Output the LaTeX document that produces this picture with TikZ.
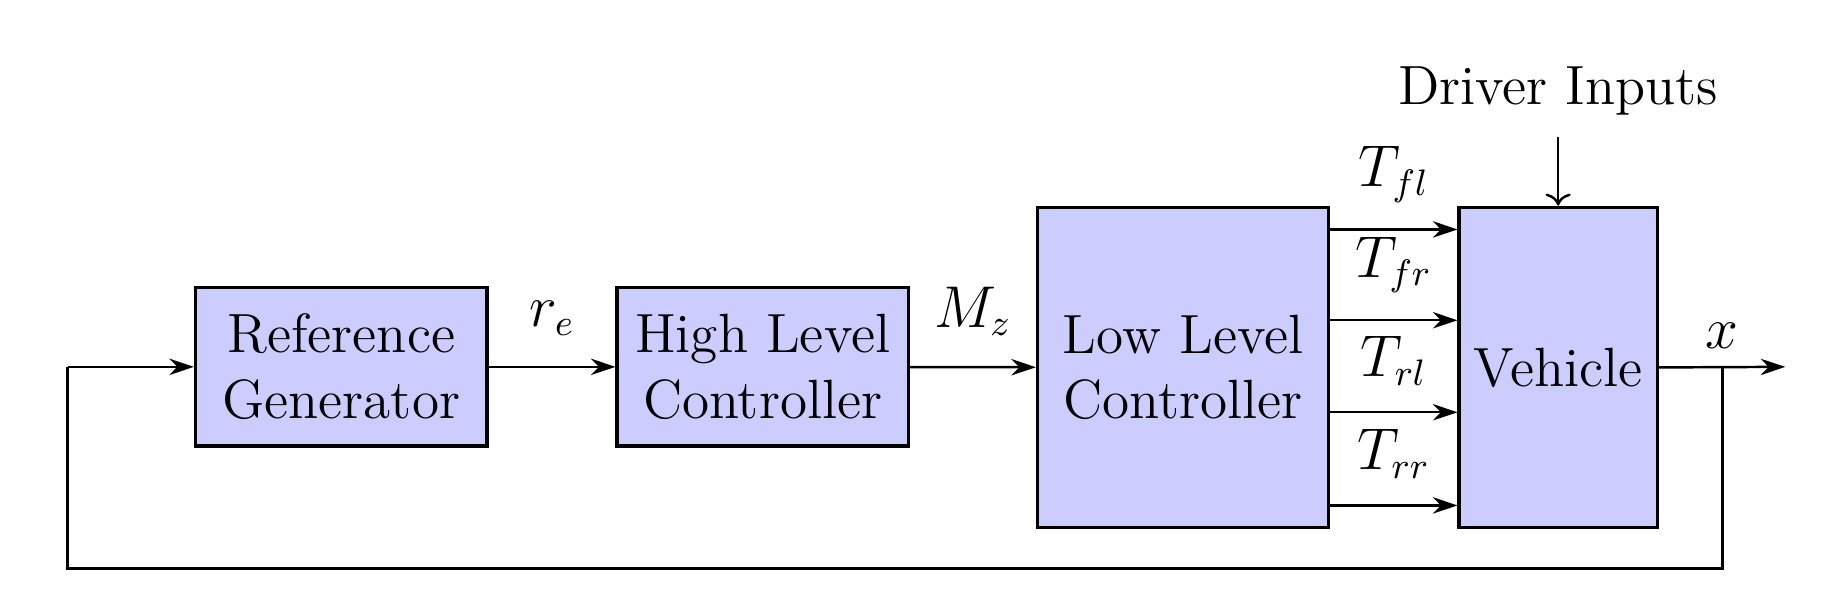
\documentclass[tikz,border=0pt]{standalone}
\usetikzlibrary{arrows.meta}
\begin{document}
\begin{tikzpicture}[x=0.01cm,y=-0.01cm,
  blk/.style={draw,thick,fill=blue!20,inner sep=0pt,align=center,font=\fontsize{13.5}{16}\selectfont},
  lbl/.style={font=\fontsize{13.5}{16}\selectfont},
  sig/.style={semithick,-{Stealth[length=6pt,width=4pt]}}]
\useasboundingbox (0,0) rectangle (1568,520);
\node[blk,minimum width=2.5cm,minimum height=1.36cm] (rg) at (293,315) {Reference\\Generator};
\node[blk,minimum width=2.5cm,minimum height=1.36cm] (hl) at (655,315) {High Level\\Controller};
\node[blk,minimum width=2.5cm,minimum height=2.75cm] (ll) at (1016,315.5) {Low Level\\Controller};
\node[blk,minimum width=1.7cm,minimum height=2.75cm] (ve) at (1338,315.5) {Vehicle};
\node[lbl] (di) at (1338,78) {Driver Inputs};
\coordinate (dtop) at (1338,118);
\coordinate (tap) at (1479,315);
\coordinate (out) at (1533,315);
\coordinate (bl) at (58,488);
\coordinate (br) at (1479,488);
\coordinate (tl) at (58,315);
\draw[sig] (rg) -- node[lbl,above=4pt] {$r_e$} (hl);
\draw[sig] (hl) -- node[lbl,above=4pt] {$M_z$} (ll);
\draw[sig] (ve.east) -- (out);
\node[lbl] (xl) at (1479,288) {$x$};
\draw[semithick] (tap) -- (br) -- (bl) -- (tl);
\draw[sig] (tl) -- (rg.west);
\draw[semithick,->] (dtop) -- (ve.north);
\foreach \y/\t in {197/{fl},275/{fr},354/{rl},434/{rr}}{
  \coordinate (a\y) at (ll.east |- 0,\y);
  \coordinate (b\y) at (ve.west |- 0,\y);
  \draw[sig] (a\y) -- node[lbl,above=3pt] {$T_{\t}$} (b\y);
}
\end{tikzpicture}
\end{document}
